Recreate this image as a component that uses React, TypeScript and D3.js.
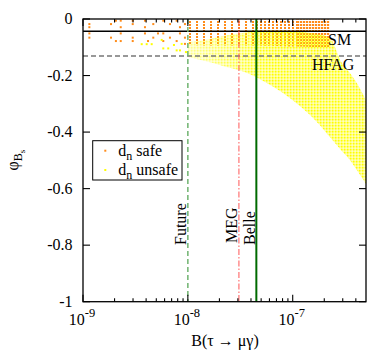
import React from "react";
import * as d3 from "d3";

// ---- data ----
const yTicks = [0, -0.2, -0.4, -0.6, -0.8, -1];
const yTickLabels = ["0", "-0.2", "-0.4", "-0.6", "-0.8", "-1"];
const xMajorTicks = [1e-9, 1e-8, 1e-7];
const xMajorExp = ["-9", "-8", "-7"];
const xMinorTicks = [
  2e-9, 3e-9, 4e-9, 5e-9, 6e-9, 7e-9, 8e-9, 9e-9,
  2e-8, 3e-8, 4e-8, 5e-8, 6e-8, 7e-8, 8e-8, 9e-8,
  2e-7, 3e-7, 4e-7,
];

const smPhi = -0.043;
const hfagPhi = -0.131;
const futureB = 1e-8;
const megB = 3.07e-8;
const belleB = 4.5e-8;

// sparse scan points (left part)
const safeSparseB = [
  1.15e-9, 1.15e-9, 1.15e-9, 1.15e-9,
  1.85e-9, 1.85e-9,
  2.06e-9, 2.06e-9,
  2.29e-9, 2.29e-9, 2.29e-9, 2.29e-9,
  2.98e-9, 2.98e-9, 2.98e-9, 2.98e-9,
  3.9e-9, 3.9e-9, 3.9e-9, 4.17e-9,
  4.68e-9, 4.68e-9,
  5.19e-9,
  5.83e-9, 5.83e-9, 5.83e-9,
  6.75e-9, 6.75e-9,
  7.82e-9, 7.82e-9,
  8.41e-9, 8.41e-9,
  9.38e-9, 9.38e-9, 9.38e-9,
];
const safeSparsePhi = [
  -0.018, -0.029, -0.051, -0.066,
  -0.018, -0.066,
  -0.006, -0.078,
  -0.006, -0.029, -0.051, -0.078,
  -0.006, -0.018, -0.066, -0.078,
  -0.006, -0.029, -0.051, -0.078,
  -0.018, -0.066,
  -0.051,
  -0.006, -0.051, -0.078,
  -0.018, -0.066,
  -0.006, -0.078,
  -0.029, -0.051,
  -0.018, -0.066, -0.088,
];
const unsafeSparseB = [
  3.63e-9, 4.05e-9, 4.52e-9, 5.63e-9, 5.83e-9, 6.5e-9, 7.37e-9, 7.82e-9, 8.41e-9, 8.73e-9, 9.59e-9,
];
const unsafeSparsePhi = [
  -0.089, -0.089, -0.089, -0.074, -0.104, -0.104, -0.092, -0.111, -0.111, -0.088, -0.117,
];

// dense scan regions (envelopes)
const safeRegionB = [1.0e-8, 2.16e-8, 3.91e-8, 8.07e-8, 1.7e-7, 2.26e-7];
const safeRegionTop = [-0.004, -0.003, -0.002, -0.002, -0.002, -0.002];
const safeRegionBottom = [-0.092, -0.094, -0.094, -0.096, -0.1, -0.103];
// density zones of the safe scan (sparse -> dense)
const safeZoneB = [1.0e-8, 4.5e-8, 1.1e-7, 2.26e-7];

const unsafeRegionB = [
  1.0e-8, 1.46e-8, 2.16e-8, 3.91e-8, 6.06e-8, 8.07e-8, 1.171e-7, 1.7e-7, 2.26e-7,
  2.94e-7, 3.51e-7, 3.92e-7, 5e-7,
];
const unsafeRegionTop = [
  -0.081, -0.074, -0.06, -0.046, -0.042, -0.042, -0.046, -0.053, -0.067,
  -0.156, -0.191, -0.216, -0.287,
];
const unsafeRegionBottom = [
  -0.134, -0.149, -0.166, -0.195, -0.233, -0.262, -0.308, -0.364, -0.417,
  -0.467, -0.499, -0.524, -0.584,
];

// ---- layout ----
const W = 392;
const H = 351;
const L = 83;
const R = 366;
const T = 19;
const B = 301.7;
const FONT = "'Liberation Serif', 'Times New Roman', serif";
const ORANGE = "#ff8c1a";
const YELLOW = "#ffff00";
const zonePatterns = ["pOrange7", "pOrange4", "pOrange3"];

export default function App() {
  const x = d3.scaleLog().domain([1e-9, 5e-7]).range([L, R]);
  const y = d3.scaleLinear().domain([-1, 0]).range([B, T]);

  const areaFor = (bs: number[], top: number[], bot: number[]) =>
    d3
      .area<number>()
      .x((d) => x(d))
      .y0((_, i) => y(top[i]))
      .y1((_, i) => y(bot[i]))
      .curve(d3.curveMonotoneX)(bs) || "";

  const safePath = areaFor(safeRegionB, safeRegionTop, safeRegionBottom);
  const unsafePath = areaFor(unsafeRegionB, unsafeRegionTop, unsafeRegionBottom);

  return (
    <svg
      width={W}
      height={H}
      style={{ position: "absolute", left: 0, top: 0, background: "#fff" }}
      fontFamily={FONT}
    >
      <defs>
        <pattern id="pOrange7" width="7" height="3" patternUnits="userSpaceOnUse">
          <rect x="0" y="0" width="2" height="2" fill={ORANGE} />
        </pattern>
        <pattern id="pOrange4" width="4" height="3" patternUnits="userSpaceOnUse">
          <rect x="0" y="0" width="2" height="2" fill={ORANGE} />
        </pattern>
        <pattern id="pOrange3" width="3" height="3" patternUnits="userSpaceOnUse">
          <rect x="0" y="0" width="2.2" height="2" fill={ORANGE} />
        </pattern>
        <pattern id="pYellow" width="3" height="3" patternUnits="userSpaceOnUse">
          <rect x="1.5" y="1.5" width="2.2" height="2.2" fill={YELLOW} />
          <rect x="-1.5" y="-1.5" width="2.2" height="2.2" fill={YELLOW} />
          <rect x="1.5" y="-1.5" width="2.2" height="2.2" fill={YELLOW} />
          <rect x="-1.5" y="1.5" width="2.2" height="2.2" fill={YELLOW} />
        </pattern>
        <linearGradient id="gYellow" gradientUnits="userSpaceOnUse" x1={x(1e-8)} x2={x(6e-8)} y1={0} y2={0}>
          <stop offset="0" stopColor="#fff" stopOpacity={0.45} />
          <stop offset="1" stopColor="#fff" stopOpacity={1} />
        </linearGradient>
        <mask id="mYellow" maskUnits="userSpaceOnUse" x={0} y={0} width={W} height={H}>
          <rect x={0} y={0} width={W} height={H} fill="url(#gYellow)" />
        </mask>
        <clipPath id="plotClip">
          <rect x={L} y={T} width={R - L} height={B - T} />
        </clipPath>
        {safeZoneB.slice(0, -1).map((b, i) => (
          <clipPath id={"zone" + i} key={"zc" + i}>
            <rect x={x(b)} y={T} width={x(safeZoneB[i + 1]) - x(b)} height={B - T} />
          </clipPath>
        ))}
      </defs>

      <g clipPath="url(#plotClip)">
        {safeZoneB.slice(0, -1).map((b, i) => (
          <g key={"z" + i} clipPath={`url(#zone${i})`}>
            <path d={safePath} fill={`url(#${zonePatterns[i]})`} />
          </g>
        ))}
        {safeSparseB.map((b, i) => (
          <rect key={"s" + i} x={x(b) - 1} y={y(safeSparsePhi[i]) - 1} width={2} height={2} fill={ORANGE} />
        ))}
        <path d={unsafePath} fill="url(#pYellow)" mask="url(#mYellow)" />
        {unsafeSparseB.map((b, i) => (
          <rect key={"u" + i} x={x(b) - 1} y={y(unsafeSparsePhi[i]) - 1} width={2} height={2} fill={YELLOW} />
        ))}

        {/* reference lines */}
        <line x1={L} x2={R} y1={y(hfagPhi)} y2={y(hfagPhi)} stroke="#777" strokeWidth={1.5} strokeDasharray="5,3" />
        <line x1={L} x2={R} y1={y(smPhi)} y2={y(smPhi)} stroke="#000" strokeWidth={1.5} />
        <line x1={x(futureB)} x2={x(futureB)} y1={T} y2={B} stroke="#6fb36f" strokeWidth={1.5} strokeDasharray="5,3" />
        <line x1={x(megB)} x2={x(megB)} y1={T} y2={B} stroke="#ff5555" strokeWidth={1} strokeDasharray="6,2,1.5,2" />
        <line x1={x(belleB)} x2={x(belleB)} y1={T} y2={B} stroke="#006a00" strokeWidth={2} />
      </g>

      {/* frame */}
      <rect x={L} y={T} width={R - L} height={B - T} fill="none" stroke="#000" strokeWidth={1.3} />

      {/* y ticks */}
      {yTicks.map((t, i) => (
        <g key={"yt" + i}>
          <line x1={L} x2={L + 7} y1={y(t)} y2={y(t)} stroke="#000" strokeWidth={1.1} />
          <line x1={R} x2={R - 7} y1={y(t)} y2={y(t)} stroke="#000" strokeWidth={1.1} />
          <text x={L - 10.5} y={y(t) + 5} fontSize={16} textAnchor="end">
            {yTickLabels[i]}
          </text>
        </g>
      ))}

      {/* x ticks */}
      {xMajorTicks.map((t, i) => (
        <g key={"xt" + i}>
          <line x1={x(t)} x2={x(t)} y1={B} y2={B - 7} stroke="#000" strokeWidth={1.1} />
          <line x1={x(t)} x2={x(t)} y1={T} y2={T + 7} stroke="#000" strokeWidth={1.1} />
          <text x={x(t) - 1} y={325} fontSize={16} textAnchor="middle">
            10
            <tspan dy={-8} fontSize={12.5}>
              {xMajorExp[i]}
            </tspan>
          </text>
        </g>
      ))}
      {xMinorTicks.map((t, i) => (
        <g key={"xm" + i}>
          <line x1={x(t)} x2={x(t)} y1={B} y2={B - 3.5} stroke="#000" strokeWidth={1.1} />
          <line x1={x(t)} x2={x(t)} y1={T} y2={T + 3.5} stroke="#000" strokeWidth={1.1} />
        </g>
      ))}

      {/* in-plot labels */}
      <text x={328} y={45} fontSize={16}>SM</text>
      <text x={312} y={70} fontSize={16}>HFAG</text>
      <text transform={`translate(${x(futureB) - 2},245) rotate(-90)`} fontSize={16}>Future</text>
      <text transform={`translate(${x(megB) - 1.5},243) rotate(-90)`} fontSize={16}>MEG</text>
      <text transform={`translate(${x(belleB) - 1.5},245) rotate(-90)`} fontSize={16}>Belle</text>

      {/* axis titles */}
      <text x={225} y={346} fontSize={16} textAnchor="middle">
        B(τ → μγ)
      </text>
      <text transform="translate(18,160) rotate(-90)" fontSize={16} textAnchor="middle">
        φ
        <tspan dy={4} fontSize={12}>B</tspan>
        <tspan dy={2.5} fontSize={9}>s</tspan>
      </text>

      {/* legend */}
      <rect x={92.7} y={140.7} width={89.3} height={39.3} fill="#fff" stroke="#000" strokeWidth={1} />
      <rect x={104.3} y={149.7} width={2} height={2} fill={ORANGE} />
      <rect x={104.3} y={169} width={2} height={2} fill={YELLOW} />
      <text x={118.3} y={155.5} fontSize={16}>
        d<tspan dy={4} fontSize={12}>n</tspan>
        <tspan dy={-4}>{" safe"}</tspan>
      </text>
      <text x={118.3} y={175} fontSize={16}>
        d<tspan dy={4} fontSize={12}>n</tspan>
        <tspan dy={-4}>{" unsafe"}</tspan>
      </text>
    </svg>
  );
}
